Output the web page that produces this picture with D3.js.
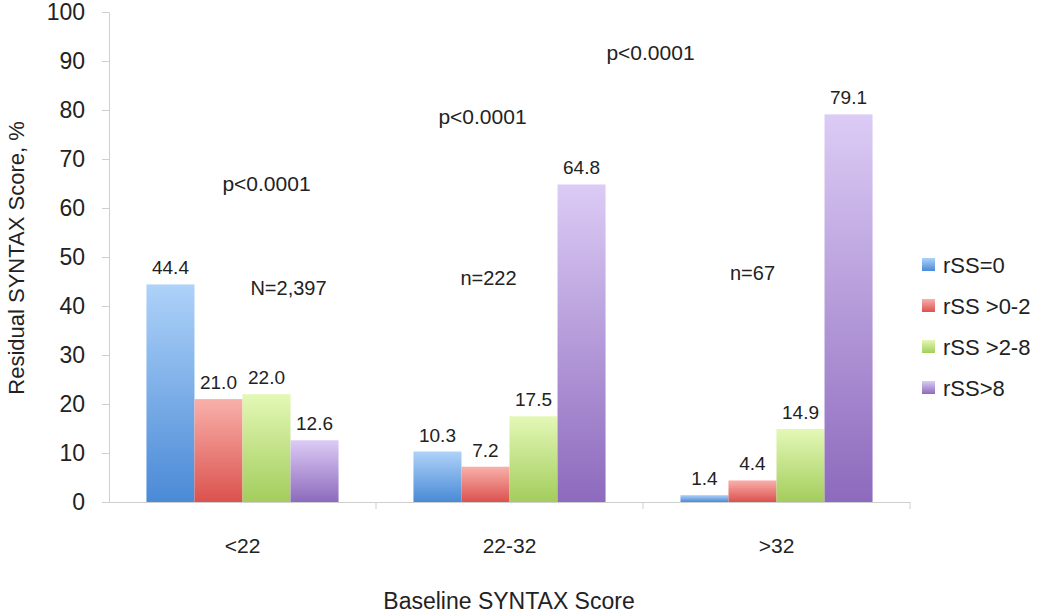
<!DOCTYPE html>
<html><head><meta charset="utf-8">
<script src="https://cdn.jsdelivr.net/npm/d3@7"></script>
<style>body{margin:0;background:#fff;} text{font-family:"Liberation Sans",Arial,sans-serif;fill:#222;}</style>
</head><body><svg id="c" width="1050" height="615"></svg>
<script>
const categories = ["<22", "22-32", ">32"];
const seriesNames = ["rSS=0", "rSS >0-2", "rSS >2-8", "rSS>8"];
const rss0 = [44.4, 10.3, 1.4];
const rss0to2 = [21.0, 7.2, 4.4];
const rss2to8 = [22.0, 17.5, 14.9];
const rssOver8 = [12.6, 64.8, 79.1];
const pLabels = ["p<0.0001", "p<0.0001", "p<0.0001"];
const pPos = [65.0, 78.6, 91.6];
const nLabels = ["N=2,397", "n=222", "n=67"];
const nPos = [43.6, 45.8, 46.8];
const yTicks = [0,10,20,30,40,50,60,70,80,90,100];

const series = [rss0, rss0to2, rss2to8, rssOver8];
const topCol = ["#aed2f9", "#f9b0aa", "#e3f8b6", "#dccbf5"];
const botCol = ["#4a8ad6", "#db524e", "#a3cd5c", "#8d6abd"];

const svg = d3.select("#c");
const defs = svg.append("defs");
series.forEach((s,i)=>{
  const g = defs.append("linearGradient").attr("id","g"+i).attr("x1",0).attr("y1",0).attr("x2",0).attr("y2",1);
  g.append("stop").attr("offset","0%").attr("stop-color",topCol[i]);
  g.append("stop").attr("offset","100%").attr("stop-color",botCol[i]);
});

const L=109, R=910, T=12, B=502;
const x = d3.scaleBand().domain(categories).range([L,R]).paddingInner(0).paddingOuter(0);
const x1 = d3.scaleBand().domain(d3.range(4)).range([0,x.bandwidth()]).paddingOuter(0.78).paddingInner(0);
const y = d3.scaleLinear().domain([0,100]).range([B,T]);

// y axis
const ya = svg.append("g").attr("transform",`translate(${L},0)`)
  .call(d3.axisLeft(y).tickValues(yTicks).tickSize(7).tickPadding(17));
ya.select(".domain").attr("stroke","#cfcfcf");
ya.selectAll(".tick line").attr("stroke","#cfcfcf");
ya.selectAll(".tick text").style("font-size","23px").style("fill","#222");

// x axis
const xa = svg.append("g").attr("transform",`translate(0,${B})`)
  .call(d3.axisBottom(x).tickSize(0).tickPadding(36));
xa.select(".domain").attr("stroke","#cfcfcf");
xa.selectAll(".tick text").style("font-size","21px").style("fill","#222");
// boundary ticks
svg.append("g").selectAll("line").data(categories).join("line")
  .attr("x1",d=>x(d)+x.bandwidth()).attr("x2",d=>x(d)+x.bandwidth())
  .attr("y1",B).attr("y2",B+7).attr("stroke","#cfcfcf");

// bars
categories.forEach((c,ci)=>{
  series.forEach((s,si)=>{
    const bx = x(c)+x1(si), bw = x1.bandwidth();
    svg.append("rect").attr("x",bx).attr("y",y(s[ci])).attr("width",bw)
      .attr("height",B-y(s[ci])).attr("fill",`url(#g${si})`);
    svg.append("text").attr("x",bx+bw/2).attr("y",y(s[ci])-10)
      .attr("text-anchor","middle").style("font-size","19px").text(s[ci].toFixed(1));
  });
});

// annotations
const pOff = [24, -27, -126];
categories.forEach((c,i)=>{
  svg.append("text").attr("x",x(c)+x.bandwidth()/2+pOff[i]).attr("y",y(pPos[i])+7)
    .attr("text-anchor","middle").style("font-size","21px").text(pLabels[i]);
});
const nOff = [46, -21, -24];
categories.forEach((c,i)=>{
  svg.append("text").attr("x",x(c)+x.bandwidth()/2+nOff[i]).attr("y",y(nPos[i])+7)
    .attr("text-anchor","middle").style("font-size","20px").text(nLabels[i]);
});

// axis titles
svg.append("text").attr("transform",`translate(24,258) rotate(-90)`).attr("text-anchor","middle")
  .style("font-size","22px").text("Residual SYNTAX Score, %");
svg.append("text").attr("x",509).attr("y",609).attr("text-anchor","middle")
  .style("font-size","23px").text("Baseline SYNTAX Score");

// legend
const lg = svg.append("g").attr("transform","translate(922,265)");
seriesNames.forEach((n,i)=>{
  lg.append("rect").attr("x",0).attr("y",i*41-7).attr("width",13).attr("height",13).attr("fill",`url(#g${i})`);
  lg.append("text").attr("x",21).attr("y",i*41+8).style("font-size","22px").text(n);
});
</script></body></html>
